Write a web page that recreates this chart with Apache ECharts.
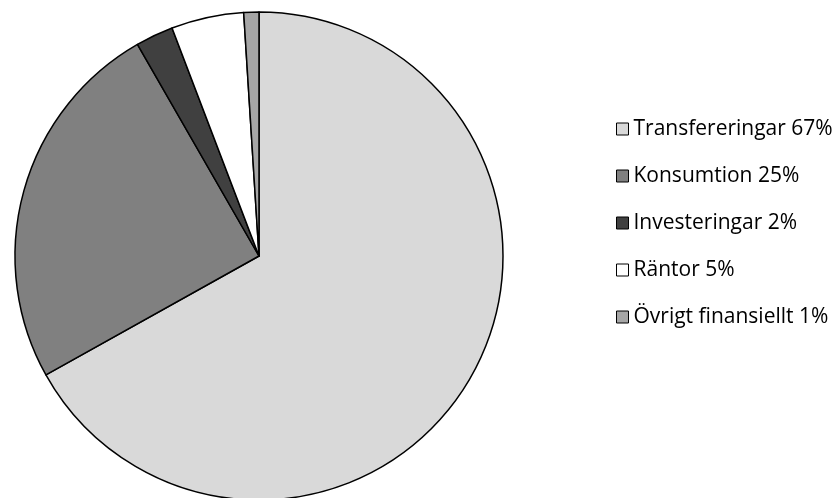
<!DOCTYPE html>
<html>
<head>
<meta charset="utf-8">
<script src="https://cdn.jsdelivr.net/npm/echarts@6/dist/echarts.min.js"></script>
<style>html,body{margin:0;padding:0;background:#fff}#c{width:838px;height:498px}</style>
</head>
<body>
<div id="c"></div>
<script>
const categories = ['Transfereringar', 'Konsumtion', 'Investeringar', 'Räntor', 'Övrigt finansiellt'];
const values = [66.9, 24.8, 2.5, 4.8, 1.0];
const legendLabels = ['Transfereringar 67%', 'Konsumtion 25%', 'Investeringar 2%', 'Räntor 5%', 'Övrigt finansiellt 1%'];
const colors = ['#d9d9d9', '#808080', '#404040', '#ffffff', '#a6a6a6'];

const chart = echarts.init(document.getElementById('c'), null, {renderer: 'canvas'});
chart.setOption({
  animation: false,
  legend: {
    orient: 'vertical',
    left: 616,
    top: 118,
    padding: 0,
    itemWidth: 12,
    itemHeight: 12,
    itemGap: 25,
    icon: 'rect',
    itemStyle: {borderColor: '#000', borderWidth: 1},
    textStyle: {fontFamily: 'Open Sans', fontSize: 21, lineHeight: 22, color: '#000'},
    formatter: function (name) { return legendLabels[categories.indexOf(name)]; },
    data: categories
  },
  series: [{
    type: 'pie',
    center: [259, 256],
    radius: 244,
    startAngle: 90,
    clockwise: true,
    label: {show: false},
    labelLine: {show: false},
    emphasis: {disabled: true},
    itemStyle: {borderColor: '#000', borderWidth: 1.5},
    data: categories.map((c, i) => ({name: c, value: values[i], itemStyle: {color: colors[i]}}))
  }]
});
</script>
</body>
</html>
